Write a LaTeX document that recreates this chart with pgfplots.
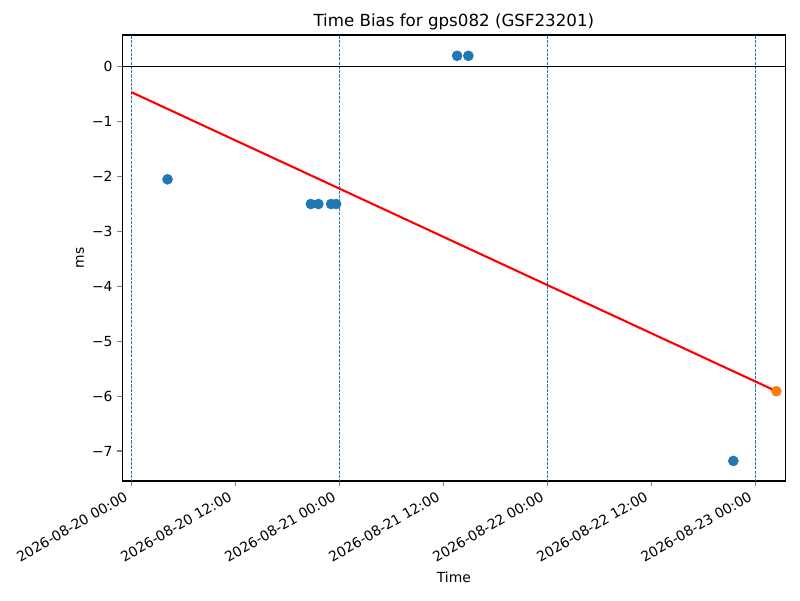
\documentclass[border=0pt]{standalone}
\usepackage{fontspec}
\setmainfont{DejaVu Sans}
\usepackage{pgfplots}
\pgfplotsset{compat=1.18}
\definecolor{c0}{HTML}{1F77B4}
\definecolor{c1}{HTML}{FF7F0E}
\begin{document}
\begin{tikzpicture}
\useasboundingbox (0,0) rectangle (576pt,432pt);
\begin{axis}[
  at={(88.06pt,85.7pt)}, anchor=south west,
  scale only axis, width=477.4pt, height=321.1pt,
  xmin=-1.016, xmax=75.46, ymin=-7.545, ymax=0.579,
  axis line style={line width=0.8pt},
  tick style={line width=0.8pt},
  major tick length=3.5pt, tick align=outside,
  xtick pos=bottom, ytick pos=left,
  xtick={0,12,24,36,48,60,72},
  xticklabels={2026-08-20 00:00,2026-08-20 12:00,2026-08-21 00:00,2026-08-21 12:00,2026-08-22 00:00,2026-08-22 12:00,2026-08-23 00:00},
  ytick={-7,-6,-5,-4,-3,-2,-1,0},
  yticklabels={−7,−6,−5,−4,−3,−2,−1,0},
  ticklabel style={font=\fontsize{10}{12}\selectfont},
  xticklabel style={xshift=-1.6pt, yshift=-10pt, rotate=30, anchor=base east, inner sep=0pt},
  title={Time Bias for gps082 (GSF23201)},
  title style={font=\fontsize{12}{14}\selectfont, at={(axis description cs:0.5,1)}, anchor=base, inner sep=0pt, yshift=0pt},
  xlabel={Time}, ylabel={ms},
  label style={font=\fontsize{10}{12}\selectfont},
  xlabel style={at={(axis description cs:0.5,-0.215)}, anchor=center},
  ylabel style={at={(axis description cs:-0.0638,0.5)}, anchor=center, rotate=0},
  clip=true,
]
\addplot[forget plot, draw=c0, line width=0.75pt, dash pattern=on 2.2pt off 0.9pt] coordinates {(0,-10) (0,10)};
\addplot[forget plot, draw=c0, line width=0.75pt, dash pattern=on 2.2pt off 0.9pt] coordinates {(24,-10) (24,10)};
\addplot[forget plot, draw=c0, line width=0.75pt, dash pattern=on 2.2pt off 0.9pt] coordinates {(48,-10) (48,10)};
\addplot[forget plot, draw=c0, line width=0.75pt, dash pattern=on 2.2pt off 0.9pt] coordinates {(72,-10) (72,10)};
\addplot[forget plot, draw=black, line width=0.8pt] coordinates {(-5,0) (80,0)};
\addplot[only marks, mark=*, mark size=3.6pt, c0, mark options={draw=c0, fill=c0}] coordinates {
(4.2,-2.05) (20.73,-2.5) (21.6,-2.5) (23.07,-2.5) (23.65,-2.5) (37.6,0.2) (38.9,0.2) (69.46,-7.18)
};
\addplot[draw=red, line width=1.5pt] coordinates {(0,-0.46) (74.42,-5.91)};
\addplot[only marks, mark=*, mark size=3.6pt, c1, mark options={draw=c1, fill=c1}] coordinates {(74.42,-5.91)};
\end{axis}
\end{tikzpicture}
\end{document}
